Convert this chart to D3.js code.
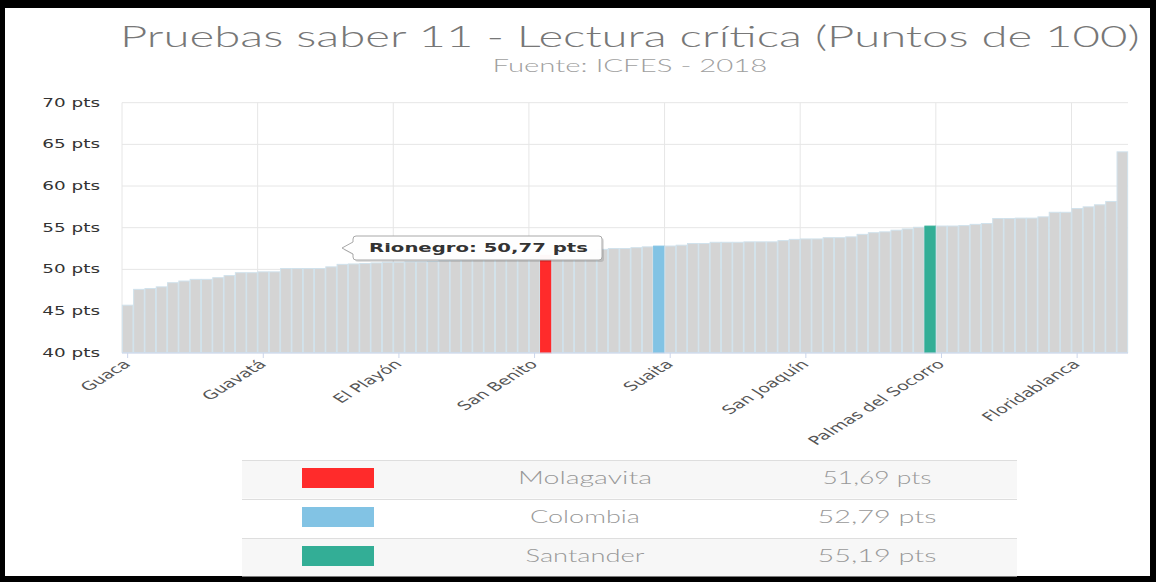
<!DOCTYPE html>
<html><head><meta charset="utf-8">
<script src="https://cdn.jsdelivr.net/npm/d3@7"></script>
<style>html,body{margin:0;padding:0;background:#000;} svg{display:block}</style>
</head><body><svg id="c" width="1156" height="582"></svg>
<script>
// ---- data ----
const values = [
  45.7, 47.6, 47.7, 47.9, 48.4, 48.6, 48.8, 48.8, 49.0, 49.25,
  49.6, 49.6, 49.7, 49.7, 50.1, 50.1, 50.1, 50.1, 50.3, 50.6,
  50.65, 50.7, 50.77, 50.85, 50.85, 50.9, 50.9, 50.95, 51.05, 51.1,
  51.15, 51.2, 51.3, 51.4, 51.5, 51.55, 51.6, 51.69, 51.8, 51.95,
  52.1, 52.25, 52.4, 52.5, 52.5, 52.6, 52.7, 52.79, 52.8, 52.9,
  53.1, 53.1, 53.25, 53.25, 53.25, 53.3, 53.3, 53.3, 53.45, 53.6,
  53.65, 53.65, 53.8, 53.8, 53.9, 54.2, 54.4, 54.5, 54.7, 54.85,
  55.05, 55.19, 55.2, 55.2, 55.25, 55.4, 55.5, 56.1, 56.1, 56.15,
  56.15, 56.3, 56.85, 56.85, 57.3, 57.5, 57.75, 58.15, 64.1
];
const tickLabels = ["Guaca","Guavatá","El Playón","San Benito","Suaita","San Joaquín","Palmas del Socorro","Floridablanca"];
const tickIndices = [0,12,24,36,48,60,72,84];
const highlightNames = ["Molagavita","Colombia","Santander"];
const highlightIndices = [37,47,71];
const highlightValues = [51.69,52.79,55.19];
const highlightLabels = ["51,69 pts","52,79 pts","55,19 pts"];
const highlightColors = ["#ff2b2b","#82c3e4","#33ae96"];
const yTicks = [40,45,50,55,60,65,70];
const tooltipText = "Rionegro: 50,77 pts";
const titleText = "Pruebas saber 11 - Lectura crítica (Puntos de 100)";
const subtitleText = "Fuente: ICFES - 2018";

// ---- layout ----
const S = 1.6; // horizontal stretch of the original picture
const svg = d3.select("#c");
svg.append("rect").attr("width",1156).attr("height",582).attr("fill","#000");
svg.append("rect").attr("x",5).attr("y",8).attr("width",1145).attr("height",568).attr("fill","#fff");

const x = d3.scaleBand().domain(d3.range(values.length)).range([122,1128]).paddingInner(0.06).paddingOuter(0.03);
const y = d3.scaleLinear().domain([40,70]).range([352.7,102.7]);

function fit(sel, left, w){
  const nat = sel.node().getComputedTextLength();
  const yv = +sel.attr("data-y");
  sel.attr("transform",`translate(${left},${yv}) scale(${w/nat},1)`);
}
function addText(str, cx, yy, w, opts){
  const t = svg.append("text").text(str).attr("data-y",yy)
    .attr("font-family",opts.family).attr("font-size",opts.size)
    .attr("font-weight",opts.weight||"normal").attr("fill",opts.fill);
  fit(t, cx - w/2, w);
  return t;
}

// title
addText(titleText, 630, 47, 1020, {family:"Lato, 'DejaVu Sans'", size:30, weight:300, fill:"#777"});
addText(subtitleText, 630, 72, 275, {family:"Lato, 'DejaVu Sans'", size:17, weight:300, fill:"#a0a0a0"});

// grid
const g = svg.append("g");
g.selectAll("line.h").data(yTicks).join("line")
  .attr("x1",122).attr("x2",1128).attr("y1",d=>y(d)).attr("y2",d=>y(d))
  .attr("stroke","#e6e6e6").attr("stroke-width",1);
g.selectAll("line.v").data(tickIndices).join("line")
  .attr("x1",d=>x(d)-x.step()*x.paddingInner()/2).attr("x2",d=>x(d)-x.step()*x.paddingInner()/2)
  .attr("y1",102.7).attr("y2",352.7).attr("stroke","#e6e6e6").attr("stroke-width",1);

// y labels
g.selectAll("text.yl").data(yTicks).join("text")
  .attr("text-anchor","end")
  .attr("transform",d=>`translate(100,${y(d)+4}) scale(${S},1)`)
  .attr("font-family","'DejaVu Sans', Verdana, sans-serif").attr("font-size",11.5)
  .attr("fill","#333").text(d=>`${d} pts`);

// bars
const hiMap = new Map(highlightIndices.map((k,i)=>[k,i]));
g.selectAll("rect.bar").data(values).join("rect")
  .attr("x",(d,i)=>x(i)).attr("width",x.bandwidth())
  .attr("y",d=>y(d)).attr("height",d=>y(40)-y(d))
  .attr("fill",(d,i)=>hiMap.has(i)?highlightColors[hiMap.get(i)]:"#d4d4d4")
  .attr("stroke",(d,i)=>hiMap.has(i)?highlightColors[hiMap.get(i)]:"#d0e2ec").attr("stroke-width",1);

// x axis
g.append("line").attr("x1",122).attr("x2",1128).attr("y1",353).attr("y2",353).attr("stroke","#ccd6eb");
g.selectAll("line.tk").data(tickIndices).join("line")
  .attr("x1",d=>x(d)+x.bandwidth()/2).attr("x2",d=>x(d)+x.bandwidth()/2)
  .attr("y1",353).attr("y2",358).attr("stroke","#ccd6eb");
g.selectAll("text.xl").data(tickIndices).join("text")
  .attr("text-anchor","end")
  .attr("transform",(d)=>`translate(${x(d)+x.bandwidth()/2+4},365) scale(${S},1) rotate(-45)`)
  .attr("font-family","'DejaVu Sans', Verdana, sans-serif").attr("font-size",12)
  .attr("fill","#555").text((d,i)=>tickLabels[i]);

// tooltip
const tb = {l:353, r:602, t:236, b:260, tipX:342, tipY:248};
const tp = `M${tb.l+3},${tb.t} L${tb.r-3},${tb.t} Q${tb.r},${tb.t} ${tb.r},${tb.t+3} L${tb.r},${tb.b-3} Q${tb.r},${tb.b} ${tb.r-3},${tb.b} L${tb.l+3},${tb.b} Q${tb.l},${tb.b} ${tb.l},${tb.b-3} L${tb.l},${tb.tipY+6} L${tb.tipX},${tb.tipY} L${tb.l},${tb.tipY-6} L${tb.l},${tb.t+3} Q${tb.l},${tb.t} ${tb.l+3},${tb.t} Z`;
svg.append("path").attr("d",tp).attr("transform","translate(2,2)").attr("fill","rgba(0,0,0,0.12)");
svg.append("path").attr("d",tp).attr("fill","rgba(255,255,255,0.97)").attr("stroke","#a8a8a8").attr("stroke-width",1);
const tt = svg.append("text").text(tooltipText).attr("data-y",252)
  .attr("font-family","'DejaVu Sans', Verdana, sans-serif").attr("font-size",12).attr("font-weight","bold").attr("fill","#333");
fit(tt, 369, 219);

// table legend
const rowTop = [460,499,538], rowH = 38.5;
const tg = svg.append("g");
tg.selectAll("rect.row").data(highlightNames).join("rect")
  .attr("x",242).attr("width",775).attr("y",(d,i)=>rowTop[i]).attr("height",rowH)
  .attr("fill",(d,i)=>i===1?"#ffffff":"#f7f7f7");
tg.selectAll("line.row").data(rowTop).join("line")
  .attr("x1",242).attr("x2",1017).attr("y1",d=>d+0.5).attr("y2",d=>d+0.5).attr("stroke","#dedede");
tg.selectAll("rect.sw").data(highlightColors).join("rect")
  .attr("x",302).attr("width",72).attr("y",(d,i)=>rowTop[i]+8).attr("height",20).attr("fill",d=>d);
const nameW = [134,110,119], valW = [109,119,119];
highlightNames.forEach((n,i)=>{
  addText(n, 585, rowTop[i]+24, nameW[i], {family:"Lato, 'DejaVu Sans'", size:17, weight:300, fill:"#999"});
  addText(highlightLabels[i], 877, rowTop[i]+24, valW[i], {family:"Lato, 'DejaVu Sans'", size:17, weight:300, fill:"#999"});
});
</script></body></html>
